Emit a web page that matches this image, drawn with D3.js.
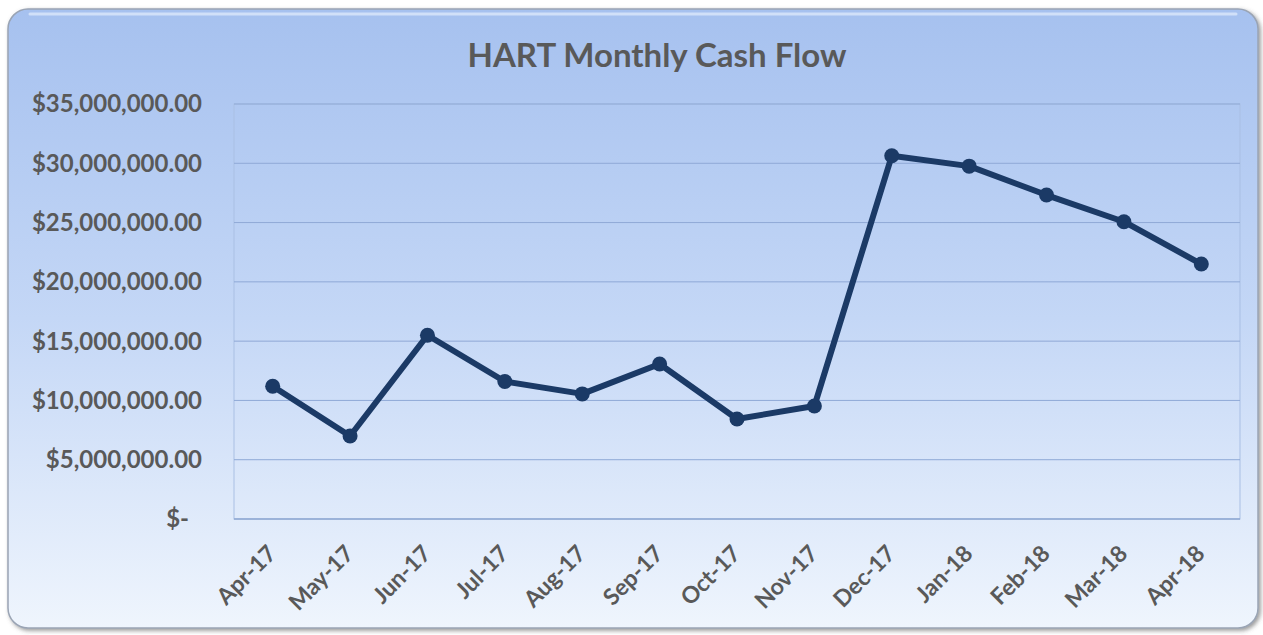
<!DOCTYPE html>
<html>
<head>
<meta charset="utf-8">
<script src="https://cdn.jsdelivr.net/npm/d3@7"></script>
<style>
  body { margin: 0; background: #ffffff; }
  text { font-family: Lato, "Open Sans", sans-serif; fill: #595959; font-weight: bold; }
</style>
</head>
<body>
<div id="chart"></div>
<script>
var svgWidth = 1263;
var svgHeight = 635;

// chart data
var months = ["Apr-17", "May-17", "Jun-17", "Jul-17", "Aug-17", "Sep-17", "Oct-17",
              "Nov-17", "Dec-17", "Jan-18", "Feb-18", "Mar-18", "Apr-18"];
var cashFlow = [11200000, 7000000, 15500000, 11600000, 10550000, 13070000, 8430000,
                9530000, 30630000, 29760000, 27320000, 25070000, 21500000];
var yTicks = [0, 5000000, 10000000, 15000000, 20000000, 25000000, 30000000, 35000000];

var margin = { top: 104, right: 23, bottom: 116, left: 234 };
var width = svgWidth - margin.left - margin.right;
var height = svgHeight - margin.top - margin.bottom;

var svg = d3.select("#chart")
    .append("svg")
    .attr("width", svgWidth)
    .attr("height", svgHeight);

var defs = svg.append("defs");

var bgGrad = defs.append("linearGradient")
    .attr("id", "bgGrad")
    .attr("x1", 0).attr("y1", 0).attr("x2", 0).attr("y2", 1);
bgGrad.append("stop").attr("offset", "0%").attr("stop-color", "#a6c1ef");
bgGrad.append("stop").attr("offset", "50%").attr("stop-color", "#c4d7f6");
bgGrad.append("stop").attr("offset", "100%").attr("stop-color", "#eff5fd");

var shadow = defs.append("filter").attr("id", "shadow")
    .attr("x", "-5%").attr("y", "-5%").attr("width", "110%").attr("height", "110%");
shadow.append("feDropShadow")
    .attr("dx", 2).attr("dy", 2).attr("stdDeviation", 2)
    .attr("flood-color", "#555").attr("flood-opacity", 0.6);

// outer rounded panel
svg.append("rect")
    .attr("x", 8).attr("y", 9)
    .attr("width", 1250).attr("height", 619)
    .attr("rx", 20).attr("ry", 20)
    .attr("fill", "url(#bgGrad)")
    .attr("stroke", "#9aa4b4")
    .attr("stroke-width", 1.5)
    .attr("filter", "url(#shadow)");

// top highlight
svg.append("path")
    .attr("d", "M 30 14 L 1236 14")
    .attr("stroke", "#dce8fb")
    .attr("stroke-width", 3)
    .attr("stroke-linecap", "round")
    .attr("opacity", 0.8);

// title
svg.append("text")
    .attr("x", 657)
    .attr("y", 67)
    .attr("text-anchor", "middle")
    .attr("font-size", "33px")
    .text("HART Monthly Cash Flow");

var chartGroup = svg.append("g")
    .attr("transform", `translate(${margin.left}, ${margin.top})`);

var xScale = d3.scaleBand()
    .domain(months)
    .range([0, width]);

var yScale = d3.scaleLinear()
    .domain([0, 35000000])
    .range([height, 0]);

// plot area frame
chartGroup.append("rect")
    .attr("x", 0).attr("y", 0)
    .attr("width", width).attr("height", height)
    .attr("fill", "none")
    .attr("stroke", "#a9bfe4")
    .attr("stroke-width", 1);

// gridlines
chartGroup.selectAll(".grid")
    .data(yTicks.filter(d => d > 0))
    .enter()
    .append("line")
    .attr("x1", 0).attr("x2", width)
    .attr("y1", d => yScale(d)).attr("y2", d => yScale(d))
    .attr("stroke", "#8fa9d6")
    .attr("stroke-width", 1);

// x axis line
chartGroup.append("line")
    .attr("x1", 0).attr("x2", width)
    .attr("y1", height).attr("y2", height)
    .attr("stroke", "#8ea7d2")
    .attr("stroke-width", 1.5);

// y axis labels
var fmt = d3.format(",.2f");
chartGroup.selectAll(".ylab")
    .data(yTicks)
    .enter()
    .append("text")
    .attr("x", d => d === 0 ? -45 : -32)
    .attr("y", d => yScale(d))
    .attr("dy", "0.35em")
    .attr("text-anchor", "end")
    .attr("font-size", "24px")
    .text(d => d === 0 ? "$-" : "$" + fmt(d));

// x axis labels
chartGroup.selectAll(".xlab")
    .data(months)
    .enter()
    .append("text")
    .attr("text-anchor", "end")
    .attr("font-size", "23px")
    .attr("transform", d => `translate(${xScale(d) + xScale.bandwidth() / 2 + 5}, ${height + 36}) rotate(-45)`)
    .text(d => d);

// line
var line = d3.line()
    .x((d, i) => xScale(months[i]) + xScale.bandwidth() / 2)
    .y(d => yScale(d));

chartGroup.append("path")
    .datum(cashFlow)
    .attr("d", line)
    .attr("fill", "none")
    .attr("stroke", "#1b3a66")
    .attr("stroke-width", 6)
    .attr("stroke-linejoin", "round");

chartGroup.selectAll(".pt")
    .data(cashFlow)
    .enter()
    .append("circle")
    .attr("cx", (d, i) => xScale(months[i]) + xScale.bandwidth() / 2)
    .attr("cy", d => yScale(d))
    .attr("r", 7.5)
    .attr("fill", "#1b3a66");
</script>
</body>
</html>
